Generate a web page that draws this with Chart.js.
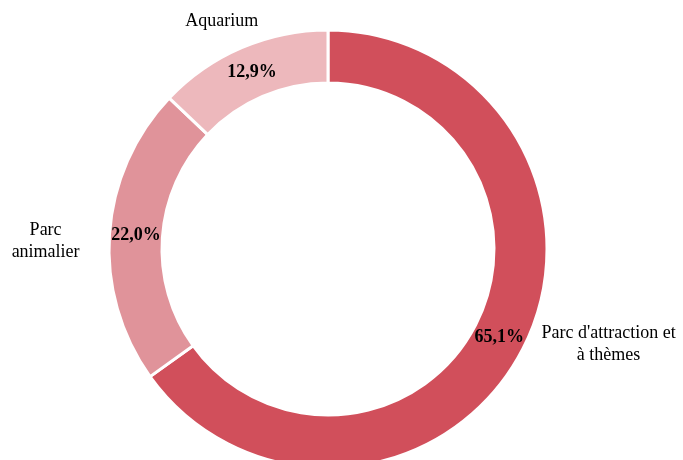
<!DOCTYPE html>
<html>
<head>
<meta charset="utf-8">
<script src="https://cdn.jsdelivr.net/npm/chart.js@4"></script>
<style>
  html, body { margin: 0; padding: 0; background: #fff; }
  #wrap { width: 683px; height: 460px; overflow: hidden; position: relative; }
  canvas { display: block; }
</style>
</head>
<body>
<div id="wrap"><canvas id="c" width="683" height="498"></canvas></div>
<script>
const categories = ["Parc d'attraction et\nà thèmes", "Parc\nanimalier", "Aquarium"];
const shares = [65.1, 22.0, 12.9];
const colors = ['#D14F5B', '#E0939A', '#EDB8BC'];

const labelOffsets = [[-8, -18], [0, 9], [-8, 1]];

const labelPlugin = {
  id: 'donutLabels',
  afterDatasetsDraw(chart) {
    const ctx = chart.ctx;
    const meta = chart.getDatasetMeta(0);
    const total = shares.reduce((a, b) => a + b, 0);
    meta.data.forEach((arc, i) => {
      const p = arc.getProps(['x', 'y', 'startAngle', 'endAngle', 'innerRadius', 'outerRadius'], true);
      const mid = (p.startAngle + p.endAngle) / 2;
      const dx = Math.cos(mid), dy = Math.sin(mid);
      // percentage inside the ring
      const rm = (p.innerRadius + p.outerRadius) / 2;
      ctx.save();
      ctx.fillStyle = '#000';
      ctx.font = 'bold 18px "Liberation Serif", "Times New Roman", serif';
      ctx.textAlign = 'center';
      ctx.textBaseline = 'middle';
      const pct = (shares[i] / total * 100).toFixed(1).replace('.', ',') + '%';
      ctx.fillText(pct, p.x + dx * rm, p.y + dy * rm);
      // category outside
      ctx.font = '18px "Liberation Serif", "Times New Roman", serif';
      const ro = p.outerRadius + 30;
      const ax = p.x + dx * ro + labelOffsets[i][0];
      const ay = p.y + dy * ro + labelOffsets[i][1];
      const lines = categories[i].split('\n');
      const widths = lines.map(l => ctx.measureText(l).width);
      const blockW = Math.max(...widths);
      let cxText;
      if (dx > 0.5) cxText = ax + blockW / 2;
      else if (dx < -0.5) cxText = ax - blockW / 2;
      else cxText = ax;
      const lh = 22;
      const y0 = ay - (lines.length - 1) * lh / 2;
      lines.forEach((l, k) => ctx.fillText(l, cxText, y0 + k * lh));
      ctx.restore();
    });
  }
};

new Chart(document.getElementById('c'), {
  type: 'doughnut',
  data: {
    labels: categories,
    datasets: [{
      data: shares,
      backgroundColor: colors,
      borderColor: '#ffffff',
      borderWidth: 3,
      hoverOffset: 0
    }]
  },
  options: {
    responsive: false,
    animation: false,
    radius: 219,
    cutout: '75.8%',
    layout: { padding: { left: 0, right: 27, top: 0, bottom: 0 } },
    plugins: {
      legend: { display: false },
      tooltip: { enabled: false }
    }
  },
  plugins: [labelPlugin]
});
</script>
</body>
</html>
